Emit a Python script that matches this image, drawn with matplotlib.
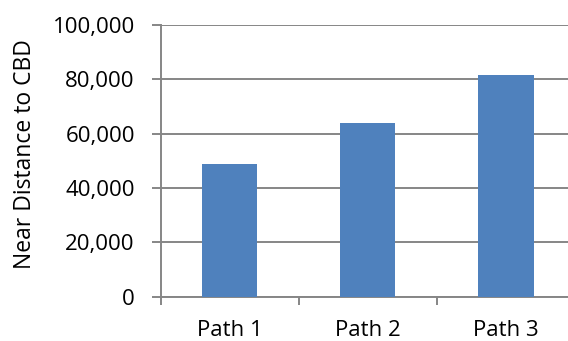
import matplotlib
matplotlib.use("Agg")
import matplotlib.pyplot as plt
from matplotlib.ticker import FuncFormatter, FixedLocator

# distances from each path to the CBD
paths = ["Path 1", "Path 2", "Path 3"]
distances = [48800, 63900, 81700]
y_ticks = [0, 20000, 40000, 60000, 80000, 100000]

plt.rcParams['font.family'] = ['Open Sans', 'DejaVu Sans']

grey = '#868686'
fig = plt.figure(figsize=(5.68, 3.41), dpi=100)
ax = fig.add_axes([160.5 / 568, 1 - 296.7 / 341, (575 - 160.5) / 568, (296.7 - 25) / 341])

x = list(range(len(paths)))
ax.bar(x, distances, width=0.4, color='#4F81BD', zorder=3)

ax.set_xlim(-0.5, len(paths) - 0.5)
ax.set_ylim(0, 100000)
ax.set_yticks(y_ticks)
ax.yaxis.set_major_formatter(FuncFormatter(lambda v, p: f"{int(v):,}"))
ax.set_xticks(x)
ax.set_xticklabels(paths)
ax.xaxis.set_minor_locator(FixedLocator([i - 0.5 for i in range(len(paths) + 1)]))

ax.grid(axis='y', color=grey, linewidth=1.4, zorder=0)
for side in ['top', 'right']:
    ax.spines[side].set_visible(False)
for side in ['left', 'bottom']:
    ax.spines[side].set_color(grey)
    ax.spines[side].set_linewidth(1.4)

ax.tick_params(axis='y', length=6.5, width=1.4, color=grey, pad=12, labelsize=16, labelcolor='black')
ax.tick_params(axis='x', which='major', length=0, pad=17, labelsize=16, labelcolor='black')
ax.tick_params(axis='x', which='minor', length=6, width=1.4, color=grey)

ax.set_ylabel("Near Distance to CBD", fontsize=16.5)
ax.yaxis.set_label_coords(-0.298, 0.525)

fig.savefig("out.png", dpi=100)
